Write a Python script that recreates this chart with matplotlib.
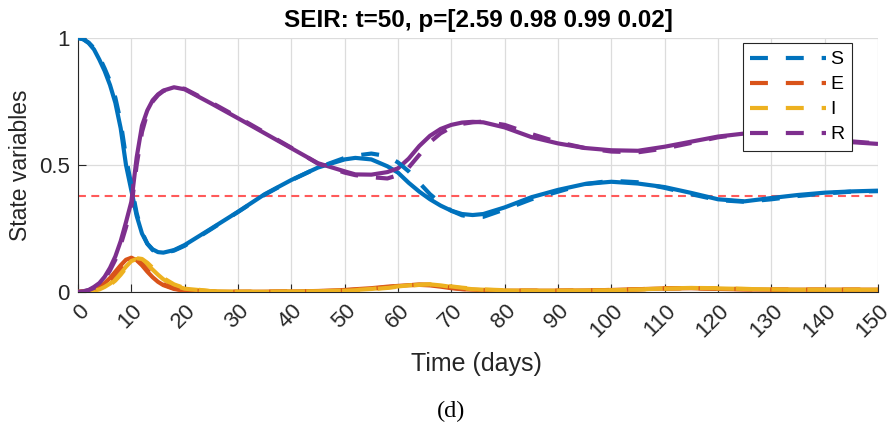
import matplotlib
matplotlib.use("Agg")
import matplotlib.pyplot as plt
import matplotlib.transforms as mtransforms
import numpy as np

# ---------------- data ----------------
t = [0, 1, 2, 3, 4, 5, 6, 7, 8, 9, 10, 11, 12, 13, 14, 15, 16, 18, 20, 25, 30, 35, 40, 45,
     50, 52, 55, 58, 60, 62, 64, 66, 68, 70, 72, 74, 76, 80, 85, 90, 95, 100, 105, 110, 115,
     120, 125, 130, 135, 140, 145, 150]

# observed (solid)
S_obs = [1.0, 0.995, 0.98, 0.955, 0.915, 0.87, 0.815, 0.745, 0.645, 0.50, 0.40, 0.30, 0.23, 0.19,
         0.168, 0.157, 0.155, 0.165, 0.185, 0.25, 0.316, 0.385, 0.441, 0.49, 0.522, 0.528, 0.522,
         0.495, 0.47, 0.43, 0.395, 0.365, 0.34, 0.32, 0.307, 0.303, 0.307, 0.333, 0.373, 0.402,
         0.425, 0.434, 0.427, 0.413, 0.39, 0.365, 0.357, 0.37, 0.382, 0.391, 0.396, 0.399]
E_obs = [0.0, 0.002, 0.005, 0.011, 0.02, 0.035, 0.055, 0.08, 0.105, 0.127, 0.135, 0.125, 0.105,
         0.08, 0.058, 0.04, 0.027, 0.012, 0.005, 0.001, 0.0005, 0.001, 0.002, 0.004, 0.008, 0.011,
         0.015, 0.021, 0.024, 0.027, 0.028, 0.026, 0.021, 0.015, 0.011, 0.009, 0.007, 0.005, 0.005,
         0.005, 0.006, 0.008, 0.011, 0.014, 0.015, 0.012, 0.010, 0.009, 0.009, 0.009, 0.009, 0.009]
I_obs = [0.0, 0.001, 0.002, 0.005, 0.01, 0.02, 0.033, 0.05, 0.075, 0.10, 0.122, 0.13, 0.125, 0.108,
         0.088, 0.068, 0.05, 0.026, 0.013, 0.003, 0.001, 0.001, 0.002, 0.003, 0.006, 0.008, 0.012,
         0.018, 0.022, 0.026, 0.029, 0.030, 0.026, 0.020, 0.015, 0.011, 0.009, 0.006, 0.005, 0.005,
         0.006, 0.007, 0.010, 0.014, 0.016, 0.014, 0.012, 0.010, 0.009, 0.009, 0.009, 0.009]
R_obs = [0.0, 0.003, 0.008, 0.02, 0.035, 0.06, 0.095, 0.14, 0.20, 0.275, 0.355, 0.53, 0.655, 0.715,
         0.755, 0.778, 0.793, 0.806, 0.798, 0.742, 0.684, 0.625, 0.566, 0.507, 0.475, 0.463, 0.462,
         0.472, 0.487, 0.525, 0.575, 0.615, 0.642, 0.658, 0.667, 0.670, 0.668, 0.648, 0.61, 0.585,
         0.567, 0.558, 0.556, 0.572, 0.592, 0.612, 0.624, 0.626, 0.618, 0.603, 0.59, 0.583]

# model (dashed)
S_mod = [1.0, 0.995, 0.982, 0.96, 0.925, 0.88, 0.83, 0.765, 0.67, 0.53, 0.42, 0.31, 0.235, 0.19,
         0.165, 0.155, 0.153, 0.163, 0.182, 0.248, 0.315, 0.383, 0.44, 0.49, 0.528, 0.537, 0.545,
         0.535, 0.51, 0.475, 0.43, 0.385, 0.35, 0.32, 0.302, 0.295, 0.296, 0.325, 0.365, 0.395,
         0.425, 0.438, 0.432, 0.41, 0.385, 0.362, 0.355, 0.365, 0.378, 0.388, 0.395, 0.397]
E_mod = [0.0, 0.001, 0.004, 0.009, 0.017, 0.03, 0.049, 0.073, 0.098, 0.122, 0.134, 0.128, 0.11,
         0.086, 0.063, 0.044, 0.03, 0.014, 0.006, 0.001, 0.0005, 0.001, 0.002, 0.003, 0.007, 0.009,
         0.013, 0.019, 0.023, 0.027, 0.029, 0.028, 0.023, 0.017, 0.012, 0.009, 0.007, 0.005, 0.005,
         0.005, 0.006, 0.008, 0.011, 0.014, 0.015, 0.013, 0.011, 0.009, 0.009, 0.009, 0.009, 0.009]
I_mod = [0.0, 0.0005, 0.0015, 0.004, 0.008, 0.016, 0.028, 0.045, 0.068, 0.095, 0.12, 0.133, 0.13,
         0.115, 0.095, 0.074, 0.055, 0.03, 0.015, 0.003, 0.001, 0.001, 0.002, 0.003, 0.005, 0.007,
         0.011, 0.016, 0.021, 0.025, 0.028, 0.030, 0.027, 0.022, 0.017, 0.013, 0.010, 0.007, 0.005,
         0.005, 0.006, 0.007, 0.010, 0.013, 0.016, 0.015, 0.012, 0.010, 0.009, 0.009, 0.009, 0.009]
R_mod = [0.0, 0.002, 0.007, 0.016, 0.03, 0.052, 0.085, 0.127, 0.185, 0.255, 0.335, 0.50, 0.63, 0.705,
         0.75, 0.775, 0.791, 0.806, 0.80, 0.746, 0.688, 0.628, 0.568, 0.505, 0.47, 0.46, 0.452,
         0.447, 0.46, 0.49, 0.54, 0.59, 0.625, 0.648, 0.662, 0.668, 0.671, 0.658, 0.622, 0.59,
         0.567, 0.553, 0.55, 0.565, 0.587, 0.609, 0.623, 0.627, 0.621, 0.607, 0.593, 0.585]

threshold = 0.378
labels = ["S", "E", "I", "R"]
colors = ["#0072BD", "#D95319", "#EDB120", "#7E2F8E"]
xticks = list(range(0, 151, 10))
yticks = [0, 0.5, 1]
yticklabels = ["0", "0.5", "1"]
title = "SEIR: t=50, p=[2.59 0.98 0.99 0.02]"

# ---------------- figure ----------------
plt.rcParams['font.family'] = ['Liberation Sans', 'DejaVu Sans']
fig = plt.figure(figsize=(8.94, 4.26), dpi=100)
ax = fig.add_axes([78/894, 134/426, 800/894, 254/426])

obs = [S_obs, E_obs, I_obs, R_obs]
mod = [S_mod, E_mod, I_mod, R_mod]
for y, c in zip(obs, colors):
    ax.plot(t, y, color=c, lw=3, solid_capstyle='butt', zorder=3)
handles = []
for y, c, lab in zip(mod, colors, labels):
    h, = ax.plot(t, y, color=c, lw=3, dashes=(4.3, 4.3), label=lab, zorder=3)
    handles.append(h)

ax.axhline(threshold, color="#FF5A5A", lw=1.5, dashes=(3.8, 2.6), zorder=2)

ax.set_xlim(0, 150)
ax.set_ylim(0, 1)
ax.set_xticks(xticks)
ax.set_xticklabels([str(v) for v in xticks], rotation=45, ha='right', va='center',
                   rotation_mode='anchor')
ax.set_yticks(yticks)
ax.set_yticklabels(yticklabels)
ax.grid(True, color='#DCDCDC', lw=0.9)
ax.set_axisbelow(True)
for s in ['top', 'right']:
    ax.spines[s].set_visible(False)
for s in ['left', 'bottom']:
    ax.spines[s].set_color('#262626')
    ax.spines[s].set_linewidth(0.8)
ax.tick_params(direction='in', length=6, width=0.8, colors='#262626', labelsize=16,
               top=False, right=False)
ax.tick_params(axis='x', pad=10)
ax.tick_params(axis='y', pad=6)

offset = mtransforms.ScaledTranslation(8/100, -2/100, fig.dpi_scale_trans)
for lab in ax.get_xticklabels():
    lab.set_transform(lab.get_transform() + offset)

ax.set_title(title, fontsize=17.5, fontweight='bold', pad=8)
ax.set_xlabel("Time (days)", fontsize=18, color='#262626', va='top')
ax.xaxis.set_label_coords(0.4975, -0.236)
ax.set_ylabel("State variables", fontsize=16.5, color='#262626')
ax.yaxis.set_label_coords(-0.057, 0.5)

leg = ax.legend(handles=handles, loc='upper right', bbox_to_anchor=(852/894, 383/426),
                bbox_transform=fig.transFigure, fontsize=14, handlelength=3.9,
                handletextpad=0.2, labelspacing=0.38, borderpad=0.4, borderaxespad=0,
                frameon=True, fancybox=False, edgecolor='#262626', framealpha=1)
leg.get_frame().set_linewidth(0.8)

fig.text(451/894, 1 - 411/426, "(d)", ha='center', va='center',
         fontsize=17.5, family='Liberation Serif')

fig.savefig("out.png", dpi=100)
